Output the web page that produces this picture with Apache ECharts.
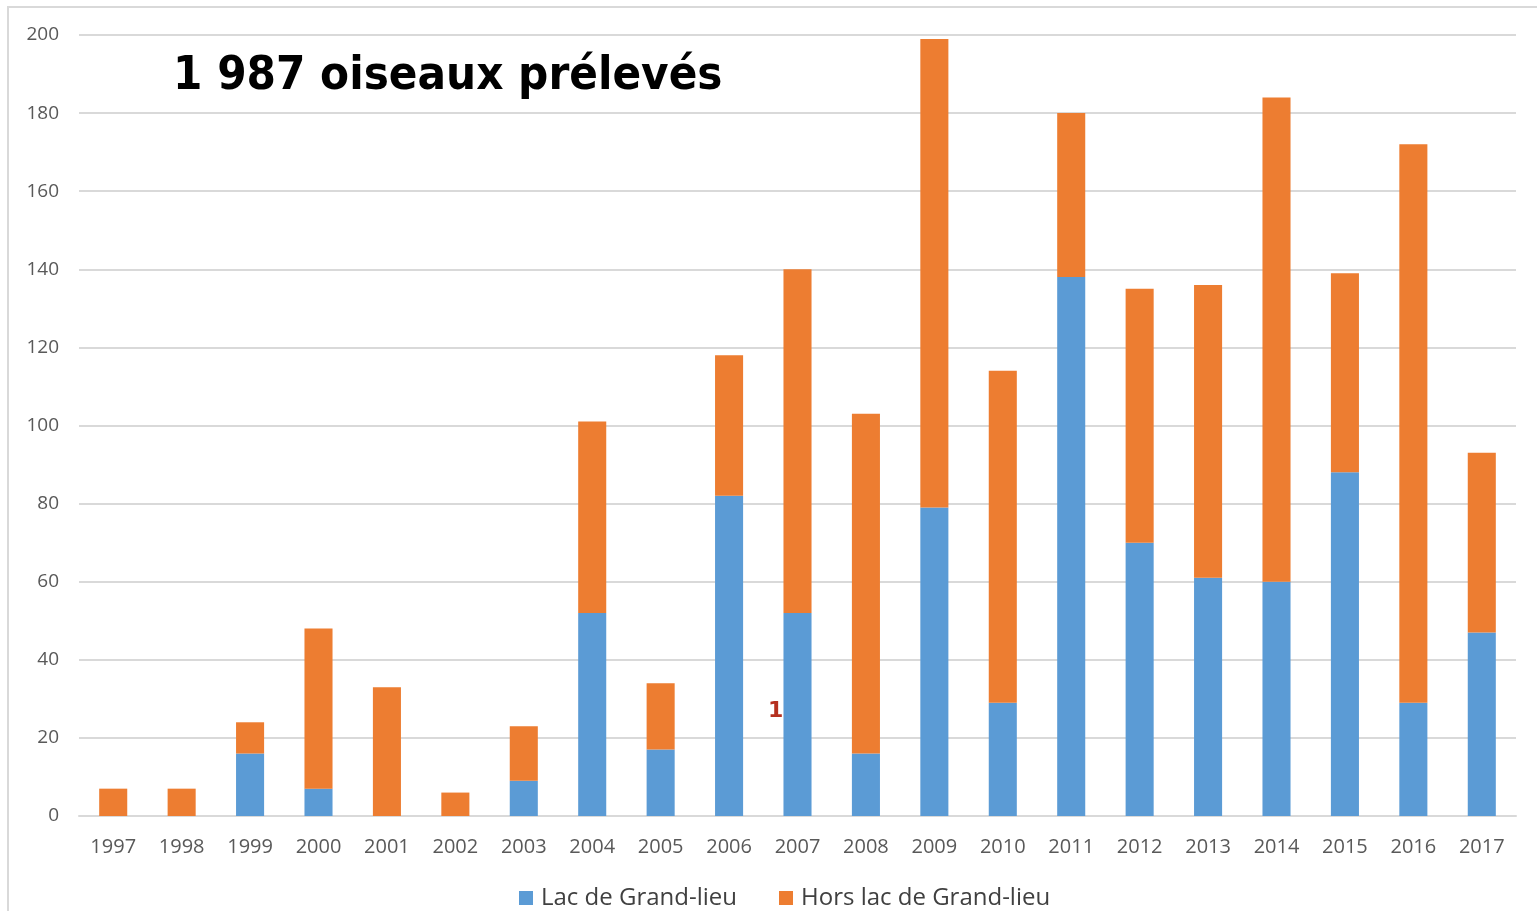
<!DOCTYPE html>
<html>
<head>
<meta charset="utf-8">
<script src="https://cdn.jsdelivr.net/npm/echarts@6/dist/echarts.min.js"></script>
<style>
  html, body { margin: 0; padding: 0; background: #fff; }
  #chart { width: 1537px; height: 911px; }
</style>
</head>
<body>
<div id="chart"></div>
<script>
// données
const annees = ['1997', '1998', '1999', '2000', '2001', '2002', '2003', '2004', '2005', '2006', '2007',
    '2008', '2009', '2010', '2011', '2012', '2013', '2014', '2015', '2016', '2017'];
const lacGrandLieu = [0, 0, 16, 7, 0, 0, 9, 52, 17, 82, 52, 16, 79, 29, 138, 70, 61, 60, 88, 29, 47];
const horsLac = [7, 7, 8, 41, 33, 6, 14, 49, 17, 36, 88, 87, 120, 85, 42, 65, 75, 124, 51, 143, 46];
const titre = '1 987 oiseaux prélevés';

const chart = echarts.init(document.getElementById('chart'));

const labelFont = "'Open Sans', 'Liberation Sans', sans-serif";

chart.setOption({
    animation: false,
    backgroundColor: '#fff',
    graphic: [
        {
            // cadre du graphique (coupé à droite et en bas)
            type: 'rect',
            shape: { x: 8, y: 7, width: 1600, height: 1000 },
            style: { fill: 'none', stroke: '#d9d9d9', lineWidth: 2 }
        },
        {
            type: 'text',
            left: 173,
            top: 53,
            style: {
                text: titre,
                font: "bold 47px 'DejaVu Sans Condensed', 'DejaVu Sans'",
                fill: '#000'
            }
        },
        {
            type: 'text',
            left: 768,
            top: 700,
            style: {
                text: '1',
                font: "bold 22px 'DejaVu Sans'",
                fill: '#b5301f'
            }
        }
    ],
    grid: { left: 79, right: 21, top: 35, bottom: 95, containLabel: false },
    legend: {
        bottom: -4,
        left: 514,
        itemWidth: 14,
        itemHeight: 14,
        itemGap: 42,
        icon: 'rect',
        textStyle: { fontFamily: labelFont, fontSize: 24, color: '#404040', padding: [0, 0, 0, 3] },
        data: ['Lac de Grand-lieu', 'Hors lac de Grand-lieu']
    },
    xAxis: {
        type: 'category',
        data: annees,
        axisLine: { lineStyle: { color: '#d9d9d9', width: 2 } },
        axisTick: { show: false },
        axisLabel: { fontFamily: labelFont, fontSize: 20, color: '#595959', margin: 21 }
    },
    yAxis: {
        type: 'value',
        min: 0,
        max: 200,
        interval: 20,
        axisLine: { show: false },
        axisTick: { show: false },
        splitLine: { lineStyle: { color: '#d9d9d9', width: 2 } },
        axisLabel: { fontFamily: labelFont, fontSize: 19, color: '#595959', margin: 20 }
    },
    series: [
        {
            name: 'Lac de Grand-lieu',
            type: 'bar',
            stack: 'total',
            barWidth: '41%',
            data: lacGrandLieu,
            itemStyle: { color: '#5b9bd5' }
        },
        {
            name: 'Hors lac de Grand-lieu',
            type: 'bar',
            stack: 'total',
            barWidth: '41%',
            data: horsLac,
            itemStyle: { color: '#ed7d31' }
        }
    ]
});
</script>
</body>
</html>
